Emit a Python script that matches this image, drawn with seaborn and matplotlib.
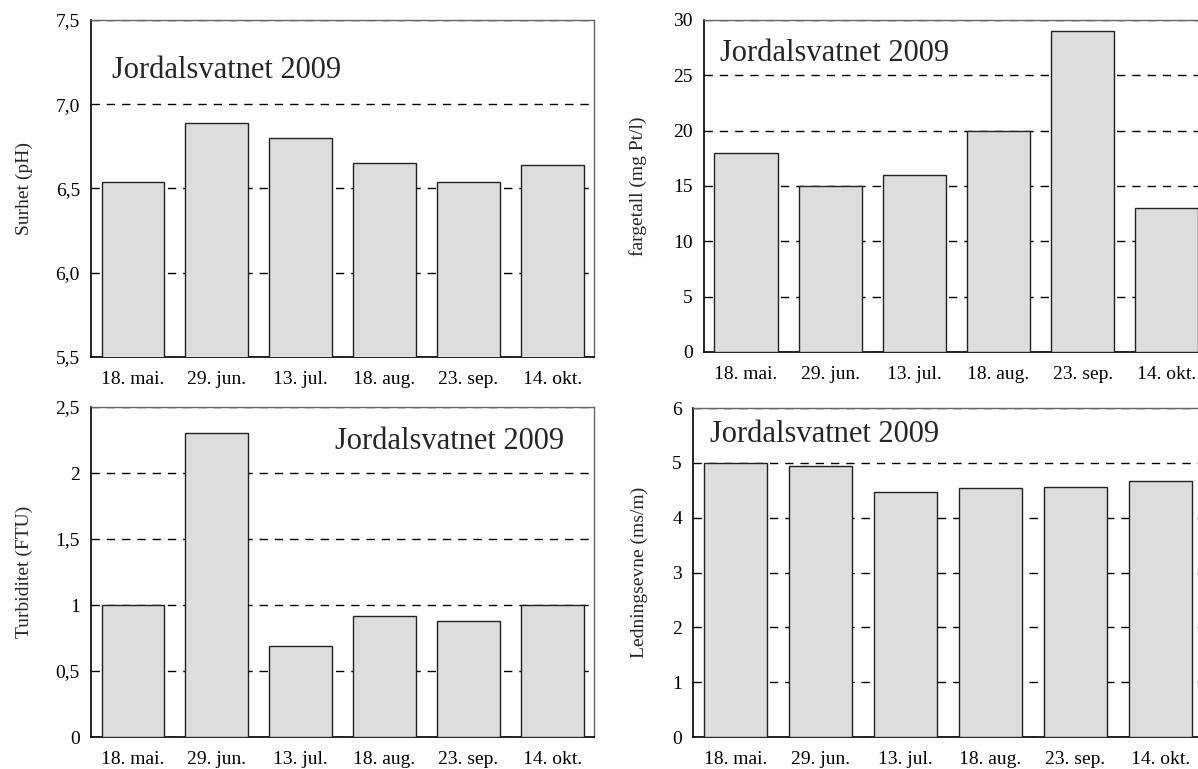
import matplotlib
matplotlib.use("Agg")
import matplotlib.pyplot as plt
import seaborn as sns
import pandas as pd

dates = ["18. mai.", "29. jun.", "13. jul.", "18. aug.", "23. sep.", "14. okt."]
title = "Jordalsvatnet 2009"

ph = [6.54, 6.89, 6.80, 6.65, 6.54, 6.64]
ph_ticks = [5.5, 6.0, 6.5, 7.0, 7.5]
ph_labels = ["5,5", "6,0", "6,5", "7,0", "7,5"]

farge = [18, 15, 16, 20, 29, 13]
farge_ticks = [0, 5, 10, 15, 20, 25, 30]
farge_labels = ["0", "5", "10", "15", "20", "25", "30"]

turb = [1.0, 2.3, 0.69, 0.92, 0.88, 1.0]
turb_ticks = [0, 0.5, 1.0, 1.5, 2.0, 2.5]
turb_labels = ["0", "0,5", "1", "1,5", "2", "2,5"]

led = [5.0, 4.95, 4.47, 4.55, 4.56, 4.67]
led_ticks = [0, 1, 2, 3, 4, 5, 6]
led_labels = ["0", "1", "2", "3", "4", "5", "6"]

sns.set_style("white")
plt.rcParams["font.family"] = ["Liberation Serif", "DejaVu Serif"]

fig = plt.figure(figsize=(11.98, 7.69), dpi=100)

panels = [
    # values, ylabel, ticks, labels, axes rect, text pos, text ha, label x
    (ph, "Surhet (pH)", ph_ticks, ph_labels, [0.0760, 0.5358, 0.4199, 0.4382], (0.042, 0.85), "left", -0.115),
    (farge, "fargetall (mg Pt/l)", farge_ticks, farge_labels, [0.5876, 0.5423, 0.4215, 0.4317], (0.032, 0.90), "left", -0.113),
    (turb, "Turbiditet (FTU)", turb_ticks, turb_labels, [0.0760, 0.0416, 0.4199, 0.4291], (0.94, 0.895), "right", -0.115),
    (led, "Ledningsevne (ms/m)", led_ticks, led_labels, [0.5785, 0.0416, 0.4257, 0.4278], (0.033, 0.92), "left", -0.088),
]

for vals, ylab, ticks, tlabels, rect, tpos, ha, lx in panels:
    ax = fig.add_axes(rect)
    df = pd.DataFrame({"dato": dates, "verdi": vals})
    sns.barplot(data=df, x="dato", y="verdi", ax=ax, color="#dddddd", saturation=1,
                edgecolor="#222222", linewidth=1, width=0.75, zorder=3)
    ax.set_xlim(-0.5, 5.5)
    ax.set_ylim(ticks[0], ticks[-1])
    ax.set_yticks(ticks)
    ax.set_yticklabels(tlabels)
    ax.set_xlabel("")
    ax.set_ylabel(ylab, fontsize=14)
    ax.yaxis.set_label_coords(lx, 0.5)
    ax.tick_params(axis="both", length=0, labelsize=14, colors="black")
    ax.tick_params(axis="y", pad=8)
    ax.tick_params(axis="x", pad=10)
    ax.grid(axis="y", color="black", linestyle=(0, (6, 5)), linewidth=1, zorder=0)
    ax.set_axisbelow(True)
    for side in ["left", "bottom"]:
        ax.spines[side].set_color("black")
        ax.spines[side].set_linewidth(1.2)
    for side in ["top", "right"]:
        ax.spines[side].set_color("#666666")
        ax.spines[side].set_linewidth(1)
    ax.text(tpos[0], tpos[1], title, transform=ax.transAxes, fontsize=22,
            ha=ha, va="center")

fig.savefig("out.png", dpi=100)
